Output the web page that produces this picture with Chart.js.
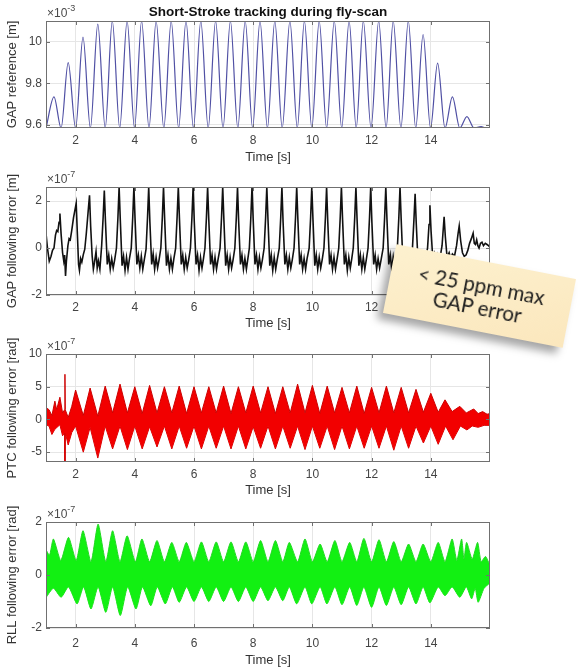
<!DOCTYPE html>
<html>
<head>
<meta charset="utf-8">
<script src="https://cdn.jsdelivr.net/npm/chart.js"></script>
<style>
  body { margin: 0; background: #fff; }
  #page { position: relative; width: 578px; height: 671px; overflow: hidden; }
  canvas { position: absolute; left: 0; }
  #note {
    position: absolute; left: 388px; top: 261px; width: 183px; height: 70px;
    transform: rotate(11deg);
    background: linear-gradient(160deg, #fdf1cf 0%, #fbe7bd 100%);
    box-shadow: -5px 7px 8px rgba(0,0,0,0.35);
    font-family: Lato, "Open Sans", sans-serif; font-size: 20.5px; line-height: 22px;
    color: #1c1c1c; text-align: center; box-sizing: border-box; padding-top: 13px;
  }
</style>
</head>
<body>
<div id="page">
  <canvas id="c1" width="578" height="166" style="top:0px"></canvas>
  <canvas id="c2" width="578" height="166" style="top:166px"></canvas>
  <canvas id="c3" width="578" height="166" style="top:332px"></canvas>
  <canvas id="c4" width="578" height="173" style="top:498px"></canvas>
  <div id="note">&lt; 25 ppm max<br>GAP error</div>
</div>
<script>
// time axis
const timeTicks = [2, 4, 6, 8, 10, 12, 14];
const timeTickLabels = ['2', '4', '6', '8', '10', '12', '14'];

// GAP reference [m] x1e-3
const gapRefTicks = [9.6, 9.8, 10];
const gapRefTickLabels = ['9.6', '9.8', '10'];
const gapRef = [
  [1.00, 9.585], [1.27, 9.735], [1.51, 9.585], [1.75, 9.90], [2.00, 9.585], [2.25, 10.022],
  [2.50, 9.585], [2.75, 10.085], [3.00, 9.585], [3.24, 10.1], [3.49, 9.585], [3.74, 10.1],
  [3.99, 9.585], [4.23, 10.1], [4.48, 9.585], [4.72, 10.1], [4.98, 9.585], [5.23, 10.1],
  [5.48, 9.585], [5.73, 10.1], [5.98, 9.585], [6.23, 10.1], [6.48, 9.585], [6.73, 10.1],
  [6.98, 9.585], [7.23, 10.1], [7.48, 9.585], [7.73, 10.1], [7.98, 9.585], [8.23, 10.1],
  [8.48, 9.585], [8.73, 10.1], [8.98, 9.585], [9.24, 10.1], [9.49, 9.585], [9.73, 10.1],
  [9.98, 9.585], [10.23, 10.1], [10.48, 9.585], [10.74, 10.1], [10.99, 9.585], [11.24, 10.1],
  [11.48, 9.585], [11.72, 10.1], [11.98, 9.585], [12.24, 10.1], [12.49, 9.585], [12.73, 10.1],
  [12.99, 9.585], [13.24, 10.1], [13.49, 9.585], [13.74, 10.035], [13.99, 9.585], [14.23, 9.897],
  [14.48, 9.585], [14.73, 9.735], [14.98, 9.585], [15.22, 9.64], [15.46, 9.585], [15.70, 9.592],
  [15.85, 9.585], [16.00, 9.585]
];

// GAP following error [m] x1e-7
const gapErrTicks = [-2, 0, 2];
const gapErrTickLabels = ['-2', '0', '2'];
const gapErr = [
  [1.00,0.63],[1.05,0.0],[1.11,-0.56],[1.17,-0.35],[1.22,-0.1],[1.27,0.0],[1.32,0.55],[1.36,0.75],
  [1.40,0.7],[1.44,1.1],[1.47,1.47],[1.51,0.6],[1.56,-0.2],[1.60,-0.55],[1.63,-0.3],[1.66,-1.19],
  [1.69,-0.55],[1.74,0.1],[1.78,0.4],[1.82,0.35],[1.87,0.75],[1.93,1.3],[2.02,1.9],[2.06,0.6],
  [2.10,-0.7],[2.13,-0.95],[2.17,-0.45],[2.21,-0.6],[2.26,-0.28],[2.31,-0.05],[2.36,0.6],[2.42,1.5],
  [2.47,2.25],[2.51,0.9],[2.56,-0.35],[2.60,-0.9],[2.64,-0.6],[2.69,-0.15],[2.73,-0.85],[2.77,-0.55],
  [2.82,-0.9],[2.88,0.1],[2.93,1.3],
  [2.97,2.45],[3.01,1.1],[3.07,-0.7],[3.12,-0.3],[3.17,-0.9],[3.22,-0.45],[3.27,-0.85],[3.32,-0.5],[3.38,0.0],[3.43,1.3],
  [3.47,2.6],[3.51,1.2],[3.57,-0.75],[3.62,-0.35],[3.67,-0.95],[3.72,-0.4],[3.77,-0.9],[3.82,-0.45],[3.88,0.0],[3.93,1.3],
  [3.97,2.6],[4.01,1.2],[4.07,-0.7],[4.12,-0.3],[4.17,-0.85],[4.22,-0.35],[4.27,-0.9],[4.32,-0.5],[4.38,-0.05],[4.43,1.3],
  [4.47,2.6],[4.51,1.1],[4.57,-0.7],[4.62,-0.25],[4.67,-0.9],[4.72,-0.4],[4.77,-0.85],[4.82,-0.5],[4.88,0.0],[4.93,1.3],
  [4.97,2.6],[5.01,1.2],[5.07,-0.75],[5.12,-0.3],[5.17,-0.9],[5.22,-0.45],[5.27,-0.9],[5.32,-0.45],[5.38,0.0],[5.43,1.35],
  [5.47,2.6],[5.51,1.2],[5.57,-0.7],[5.62,-0.3],[5.67,-0.9],[5.72,-0.4],[5.77,-0.85],[5.82,-0.5],[5.88,0.0],[5.93,1.3],
  [5.97,2.6],[6.01,1.1],[6.07,-0.7],[6.12,-0.3],[6.17,-0.95],[6.22,-0.4],[6.27,-0.85],[6.32,-0.45],[6.37,0.0],[6.42,1.3],
  [6.46,2.6],[6.50,1.2],[6.56,-0.7],[6.61,-0.3],[6.66,-0.9],[6.71,-0.4],[6.76,-0.9],[6.81,-0.5],[6.88,0.0],[6.93,1.3],
  [6.97,2.6],[7.01,1.2],[7.07,-0.75],[7.12,-0.3],[7.17,-0.9],[7.22,-0.4],[7.27,-0.85],[7.32,-0.5],[7.38,0.0],[7.43,1.3],
  [7.47,2.6],[7.51,1.1],[7.57,-0.7],[7.62,-0.3],[7.67,-0.9],[7.72,-0.45],[7.77,-0.9],[7.82,-0.45],[7.87,0.0],[7.92,1.3],
  [7.96,2.6],[8.00,1.2],[8.06,-0.7],[8.11,-0.3],[8.16,-0.9],[8.21,-0.4],[8.26,-0.85],[8.31,-0.5],[8.37,0.0],[8.42,1.3],
  [8.46,2.6],[8.50,1.2],[8.56,-0.75],[8.61,-0.3],[8.66,-0.95],[8.71,-0.4],[8.76,-0.9],[8.81,-0.5],[8.88,0.0],[8.93,1.3],
  [8.97,2.6],[9.01,1.1],[9.07,-0.7],[9.12,-0.3],[9.17,-0.9],[9.22,-0.4],[9.27,-0.85],[9.32,-0.5],[9.38,0.0],[9.43,1.3],
  [9.47,2.6],[9.51,1.2],[9.57,-0.7],[9.62,-0.3],[9.67,-0.9],[9.72,-0.45],[9.77,-0.9],[9.82,-0.45],[9.89,0.0],[9.94,1.3],
  [9.98,2.6],[10.02,1.2],[10.08,-0.75],[10.13,-0.3],[10.18,-0.9],[10.23,-0.4],[10.28,-0.85],[10.33,-0.5],[10.39,0.0],[10.44,1.3],
  [10.48,2.6],[10.52,1.1],[10.58,-0.7],[10.63,-0.3],[10.68,-0.9],[10.73,-0.4],[10.78,-0.9],[10.83,-0.5],[10.89,0.0],[10.94,1.3],
  [10.98,2.6],[11.02,1.2],[11.08,-0.7],[11.13,-0.3],[11.18,-0.95],[11.23,-0.4],[11.28,-0.85],[11.33,-0.45],[11.38,0.0],[11.43,1.3],
  [11.47,2.6],[11.51,1.2],[11.57,-0.75],[11.62,-0.3],[11.67,-0.9],[11.72,-0.4],[11.77,-0.9],[11.82,-0.5],[11.88,0.0],[11.93,1.3],
  [11.97,2.6],[12.01,1.1],[12.07,-0.7],[12.12,-0.3],[12.17,-0.9],[12.22,-0.45],[12.27,-0.85],[12.32,-0.5],[12.39,0.0],[12.44,1.3],
  [12.48,2.6],[12.52,1.2],[12.58,-0.7],[12.63,-0.3],[12.68,-0.9],[12.73,-0.4],[12.78,-0.9],[12.83,-0.5],[12.87,0.0],[12.92,1.3],
  [12.96,2.6],[13.00,1.2],[13.06,-0.7],[13.11,-0.3],[13.16,-0.9],[13.21,-0.4],[13.26,-0.85],[13.31,-0.5],[13.38,0.0],[13.43,1.2],
  [13.47,2.31],[13.51,1.0],[13.57,-0.65],[13.62,-0.3],[13.67,-0.85],[13.72,-0.4],[13.77,-0.8],[13.82,-0.45],[13.89,0.0],[13.94,1.0],
  [13.97,1.82],[14.01,0.7],[14.07,-0.5],[14.12,-0.25],[14.17,-0.6],[14.22,-0.3],[14.27,-0.55],[14.32,-0.35],[14.38,0.1],[14.42,0.8],
  [14.45,1.33],[14.49,0.5],[14.55,-0.4],[14.62,-0.2],[14.67,-0.45],[14.73,-0.25],[14.80,-0.35],[14.87,0.1],[14.92,0.6],
  [14.96,0.94],[15.01,0.3],[15.07,-0.2],[15.13,-0.35],[15.19,-0.3],[15.25,-0.1],[15.31,0.2],[15.37,0.4],[15.43,0.63],
  [15.47,0.2],[15.51,0.15],[15.55,0.35],[15.59,0.1],[15.63,0.0],[15.68,0.2],[15.73,0.25],[15.78,0.1],[15.84,0.2],
  [15.90,0.15],[15.95,0.1],[16.00,0.04]
];

// PTC following error [rad] x1e-7, upper and lower edge of the band
const ptcTicks = [-5, 0, 5, 10];
const ptcTickLabels = ['-5', '0', '5', '10'];
const ptcUpper = [
  [1.0,1.8],[1.1,1.5],[1.2,0.6],[1.3,2.8],[1.36,1.5],[1.47,3.4],[1.56,1.0],[1.63,1.5],[1.64,6.9],[1.65,1.5],
  [1.75,0.3],[1.87,2.0],[2.0,4.5],[2.26,0.6],[2.49,4.8],[2.75,0.5],[3.0,5.1],[3.25,1.0],[3.5,5.4],[3.75,1.0],
  [4.0,5.0],[4.25,0.9],[4.5,5.2],[4.75,1.0],[5.0,5.0],[5.25,1.0],[5.5,5.1],[5.75,0.9],[6.0,5.0],[6.25,1.0],
  [6.5,5.0],[6.75,1.0],[7.0,5.1],[7.25,0.9],[7.5,5.0],[7.75,1.0],[8.0,5.1],[8.25,1.0],[8.5,5.0],[8.75,0.9],
  [9.0,5.0],[9.25,1.0],[9.5,5.4],[9.75,1.0],[10.0,5.2],[10.25,0.9],[10.5,5.1],[10.75,1.0],[11.0,4.9],[11.25,1.0],
  [11.5,5.1],[11.75,0.9],[12.0,4.9],[12.25,1.0],[12.5,5.1],[12.75,1.0],[13.0,4.9],[13.25,1.0],[13.5,4.6],[13.75,1.1],
  [14.0,4.0],[14.25,1.1],[14.48,3.0],[14.72,1.2],[14.98,2.0],[15.2,1.0],[15.45,1.6],[15.6,0.9],[15.75,1.2],[15.9,0.8],[16.0,0.9]
];
const ptcLower = [
  [1.0,-0.8],[1.1,-1.0],[1.2,-2.3],[1.3,-1.5],[1.47,-0.8],[1.56,-2.5],[1.63,-2.0],[1.64,-6.5],[1.65,-2.0],[1.75,-3.9],
  [1.87,-2.0],[2.0,-1.0],[2.26,-5.0],[2.49,-1.2],[2.75,-5.9],[3.0,-1.0],[3.25,-4.5],[3.5,-1.0],[3.75,-4.6],[4.0,-1.0],
  [4.25,-4.5],[4.5,-1.1],[4.75,-4.2],[5.0,-1.0],[5.25,-4.5],[5.5,-1.0],[5.75,-4.4],[6.0,-1.0],[6.25,-4.5],[6.5,-1.0],
  [6.75,-4.4],[7.0,-1.0],[7.25,-4.5],[7.5,-1.0],[7.75,-4.5],[8.0,-1.1],[8.25,-4.4],[8.5,-1.0],[8.75,-4.5],[9.0,-1.0],
  [9.25,-4.4],[9.5,-1.0],[9.75,-4.6],[10.0,-1.0],[10.25,-4.4],[10.5,-1.0],[10.75,-4.6],[11.0,-1.0],[11.25,-4.5],[11.5,-1.0],
  [11.75,-4.4],[12.0,-1.0],[12.25,-4.4],[12.5,-1.0],[12.75,-4.7],[13.0,-1.0],[13.25,-4.4],[13.5,-1.0],[13.75,-3.6],[14.0,-1.0],
  [14.25,-3.8],[14.5,-1.0],[14.75,-3.1],[15.0,-1.0],[15.22,-1.6],[15.4,-1.0],[15.6,-1.2],[15.8,-0.9],[16.0,-0.9]
];

// RLL following error [rad] x1e-7, upper and lower edge of the band
const rllTicks = [-2, 0, 2];
const rllTickLabels = ['-2', '0', '2'];
const rllUpper = [
  [1.0,0.95],[1.12,0.75],[1.25,1.36],[1.5,0.55],[1.76,1.42],[2.02,0.55],[2.25,1.67],[2.52,0.5],[2.76,1.92],[3.02,0.5],
  [3.25,1.67],[3.5,0.5],[3.74,1.48],[4.02,0.5],[4.24,1.36],[4.5,0.5],[4.75,1.3],[5.0,0.5],[5.25,1.23],[5.5,0.5],
  [5.74,1.23],[6.0,0.5],[6.25,1.25],[6.5,0.5],[6.75,1.25],[7.0,0.5],[7.25,1.25],[7.5,0.5],[7.75,1.25],[8.0,0.5],
  [8.25,1.3],[8.5,0.5],[8.75,1.3],[9.0,0.5],[9.22,1.23],[9.5,0.5],[9.75,1.36],[10.0,0.5],[10.26,1.17],[10.5,0.5],
  [10.76,1.3],[11.0,0.5],[11.26,1.23],[11.5,0.5],[11.74,1.38],[12.0,0.5],[12.25,1.33],[12.5,0.5],[12.75,1.26],[13.0,0.5],
  [13.25,1.17],[13.5,0.5],[13.74,1.17],[14.0,0.5],[14.25,1.23],[14.48,0.5],[14.72,1.36],[14.88,0.55],[15.04,1.36],[15.12,0.6],
  [15.21,1.23],[15.4,0.6],[15.58,1.23],[15.7,0.5],[15.85,0.7],[16.0,0.35]
];
const rllLower = [
  [1.0,-0.85],[1.25,-0.5],[1.51,-0.84],[1.76,-0.45],[2.05,-1.09],[2.27,-0.45],[2.52,-1.28],[2.76,-0.45],[3.02,-1.41],[3.25,-0.45],
  [3.51,-1.53],[3.76,-0.45],[4.04,-1.28],[4.26,-0.45],[4.54,-1.16],[4.76,-0.45],[5.03,-1.09],[5.27,-0.45],[5.5,-1.03],[5.75,-0.45],
  [6.0,-1.0],[6.25,-0.45],[6.5,-1.0],[6.75,-0.45],[7.0,-1.0],[7.25,-0.45],[7.5,-1.0],[7.75,-0.45],[8.0,-1.0],[8.25,-0.45],
  [8.5,-0.97],[8.75,-0.45],[9.0,-0.97],[9.22,-0.45],[9.47,-1.09],[9.75,-0.45],[9.98,-1.09],[10.26,-0.45],[10.49,-1.09],[10.76,-0.45],
  [11.0,-1.12],[11.26,-0.45],[11.5,-1.15],[11.74,-0.45],[12.0,-1.22],[12.25,-0.45],[12.5,-1.15],[12.75,-0.45],[13.0,-1.12],[13.25,-0.45],
  [13.5,-1.09],[13.74,-0.45],[13.97,-1.05],[14.25,-0.45],[14.48,-0.78],[14.72,-0.45],[14.98,-0.84],[15.2,-0.45],[15.38,-0.9],[15.5,-0.5],
  [15.6,-1.03],[15.8,-0.5],[16.0,-0.3]
];

const FONT = '"Liberation Sans", Arial, sans-serif';
const toXY = pairs => pairs.map(([x, y]) => ({ x, y }));

// box, inward ticks, x10^n label and the figure title, drawn like MATLAB axes
const axesBox = {
  id: 'axesBox',
  afterDatasetsDraw(chart, args, opts) {
    const { ctx, chartArea: a, scales: { x, y } } = chart;
    ctx.save();
    ctx.strokeStyle = '#707070';
    ctx.lineWidth = 1;
    ctx.strokeRect(a.left + 0.5, a.top + 0.5, a.width - 1, a.height - 1);
    ctx.beginPath();
    x.ticks.forEach(t => {
      const px = Math.round(x.getPixelForValue(t.value)) + 0.5;
      ctx.moveTo(px, a.top); ctx.lineTo(px, a.top + 4);
      ctx.moveTo(px, a.bottom); ctx.lineTo(px, a.bottom - 4);
    });
    y.ticks.forEach(t => {
      const py = Math.round(y.getPixelForValue(t.value)) + 0.5;
      ctx.moveTo(a.left, py); ctx.lineTo(a.left + 4, py);
      ctx.moveTo(a.right, py); ctx.lineTo(a.right - 4, py);
    });
    ctx.stroke();

    ctx.fillStyle = '#4a4a4a';
    ctx.textBaseline = 'alphabetic';
    ctx.textAlign = 'left';
    ctx.font = '12px ' + FONT;
    ctx.fillText('\u00d710', a.left + 1, a.top - 4);
    const w = ctx.measureText('\u00d710').width;
    ctx.font = '9px ' + FONT;
    ctx.fillText(opts.exp, a.left + 1 + w, a.top - 10);

    if (opts.title) {
      ctx.fillStyle = '#111';
      ctx.font = 'bold 13.5px ' + FONT;
      ctx.textAlign = 'center';
      ctx.fillText(opts.title, (a.left + a.right) / 2, 16);
    }
    ctx.restore();
  }
};

function makeAxes(id, c) {
  return new Chart(document.getElementById(id), {
    type: 'line',
    data: { datasets: c.datasets },
    options: {
      animation: false,
      responsive: false,
      devicePixelRatio: 1,
      layout: { padding: { top: c.padTop, right: 88, bottom: 0, left: 0 } },
      elements: { point: { radius: 0 } },
      plugins: {
        legend: { display: false },
        tooltip: { enabled: false },
        axesBox: { exp: c.exp, title: c.title }
      },
      scales: {
        x: {
          type: 'linear', min: 1, max: 16,
          afterBuildTicks: s => { s.ticks = timeTicks.map(v => ({ value: v })); },
          afterFit: s => { s.height = c.axisH; },
          grid: { color: '#e6e6e6', drawTicks: false },
          border: { display: false },
          ticks: { padding: c.tickPad, color: '#444', font: { family: FONT, size: 12 },
                   maxRotation: 0, callback: (v, i) => timeTickLabels[i] },
          title: { display: true, text: 'Time [s]', color: '#333',
                   font: { family: FONT, size: 13 }, padding: { top: 0, bottom: c.titlePad } }
        },
        y: {
          type: 'linear', min: c.yMin, max: c.yMax,
          afterBuildTicks: s => { s.ticks = c.yTicks.map(v => ({ value: v })); },
          afterFit: s => { s.width = 46; },
          grid: { color: '#e6e6e6', drawTicks: false },
          border: { display: false },
          ticks: { padding: 4, color: '#444', font: { family: FONT, size: 12 },
                   callback: (v, i) => c.yLabels[i] },
          title: { display: true, text: c.yTitle, color: '#333',
                   font: { family: FONT, size: 13 }, padding: { top: 5, bottom: 0 } }
        }
      }
    },
    plugins: [axesBox]
  });
}

const lineStyle = { pointRadius: 0, clip: 0, tension: 0 };

makeAxes('c1', {
  padTop: 21, axisH: 38, tickPad: 5, titlePad: 1.2,
  yMin: 9.585, yMax: 10.1, yTicks: gapRefTicks, yLabels: gapRefTickLabels,
  yTitle: 'GAP reference [m]', exp: '-3', title: 'Short-Stroke tracking during fly-scan',
  datasets: [{ ...lineStyle, data: toXY(gapRef), borderColor: '#5050a4', borderWidth: 1.2,
               cubicInterpolationMode: 'monotone' }]
});

makeAxes('c2', {
  padTop: 21, axisH: 37, tickPad: 5, titlePad: 1.2,
  yMin: -2, yMax: 2.6, yTicks: gapErrTicks, yLabels: gapErrTickLabels,
  yTitle: 'GAP following error [m]', exp: '-7',
  datasets: [{ ...lineStyle, data: toXY(gapErr), borderColor: '#111', borderWidth: 1.6 }]
});

makeAxes('c3', {
  padTop: 22, axisH: 36, tickPad: 5, titlePad: 0.2,
  yMin: -6.5, yMax: 10, yTicks: ptcTicks, yLabels: ptcTickLabels,
  yTitle: 'PTC following error [rad]', exp: '-7',
  datasets: [
    { ...lineStyle, data: toXY(ptcUpper), borderColor: '#cc0000', borderWidth: 1,
      backgroundColor: '#f20000', fill: '+1' },
    { ...lineStyle, data: toXY(ptcLower), borderColor: '#cc0000', borderWidth: 1, fill: false }
  ]
});

makeAxes('c4', {
  padTop: 24, axisH: 43, tickPad: 8, titlePad: 3.2,
  yMin: -2, yMax: 2, yTicks: rllTicks, yLabels: rllTickLabels,
  yTitle: 'RLL following error [rad]', exp: '-7',
  datasets: [
    { ...lineStyle, tension: 0.2, data: toXY(rllUpper), borderColor: '#22d822', borderWidth: 1,
      backgroundColor: '#12f012', fill: '+1' },
    { ...lineStyle, tension: 0.2, data: toXY(rllLower), borderColor: '#22d822', borderWidth: 1, fill: false }
  ]
});
</script>
</body>
</html>
